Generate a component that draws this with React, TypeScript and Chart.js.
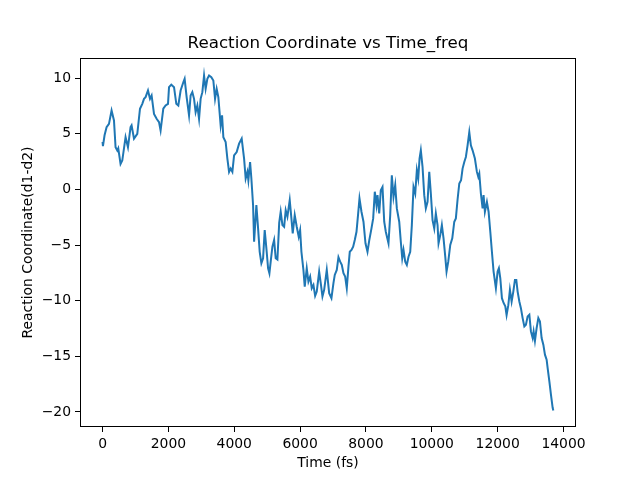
import { Chart, registerables, type ChartConfiguration, type Plugin } from "chart.js";
import { useEffect, useRef } from "react";

Chart.register(...registerables);

const TITLE = "Reaction Coordinate vs Time_freq";
const X_LABEL = "Time (fs)";
const Y_LABEL = "Reaction Coordinate(d1-d2)";

const xTicks = [0, 2000, 4000, 6000, 8000, 10000, 12000, 14000];
const yTicks = [-20, -15, -10, -5, 0, 5, 10];

// time (fs)
const timeFs = [
  0, 12, 61, 122, 195, 274, 347, 395, 447, 477,
  547, 599, 699, 772, 851, 882, 955, 1055, 1137, 1207,
  1259, 1307, 1380, 1441, 1490, 1563, 1642, 1715, 1763, 1845,
  1915, 1988, 2019, 2088, 2171, 2240, 2301, 2371, 2453, 2493,
  2554, 2627, 2675, 2727, 2779, 2827, 2879, 2931, 2979, 3031,
  3083, 3131, 3183, 3235, 3304, 3365, 3417, 3466, 3517, 3587,
  3630, 3669, 3739, 3791, 3843, 3891, 3943, 3995, 4074, 4147,
  4226, 4299, 4347, 4399, 4429, 4481, 4520, 4572, 4603, 4672,
  4724, 4773, 4824, 4876, 4925, 4976, 5028, 5068, 5107, 5159,
  5211, 5259, 5311, 5365, 5411, 5463, 5515, 5563, 5615, 5685,
  5736, 5776, 5837, 5898, 5958, 6001, 6040, 6101, 6141, 6202,
  6253, 6305, 6354, 6405, 6457, 6506, 6579, 6627, 6679, 6731,
  6810, 6883, 6952, 7013, 7053, 7114, 7165, 7217, 7266, 7317,
  7369, 7418, 7469, 7509, 7561, 7612, 7661, 7713, 7764, 7804,
  7864, 7925, 7986, 8047, 8099, 8168, 8220, 8269, 8320, 8351,
  8403, 8451, 8503, 8555, 8603, 8685, 8737, 8786, 8837, 8889,
  8938, 9011, 9059, 9102, 9141, 9193, 9242, 9293, 9345, 9394,
  9445, 9497, 9546, 9588, 9628, 9667, 9719, 9771, 9819, 9871,
  9923, 9971, 10023, 10075, 10123, 10175, 10205, 10257, 10306, 10357,
  10409, 10448, 10500, 10561, 10622, 10683, 10731, 10783, 10835, 10889,
  10935, 10987, 11035, 11087, 11139, 11187, 11239, 11309, 11370, 11412,
  11443, 11491, 11543, 11573, 11613, 11674, 11725, 11777, 11826, 11877,
  11947, 11999, 12038, 12081, 12130, 12181, 12233, 12272, 12324, 12373,
  12425, 12476, 12525, 12567, 12607, 12659, 12707, 12759, 12811, 12859,
  12911, 12963, 13011, 13063, 13093, 13133, 13184, 13236, 13285, 13336,
  13388, 13437, 13488, 13518, 13571, 13619, 13671, 13692,
];

// reaction coordinate d1-d2
const reactionCoord = [
  4.27, 3.9, 4.87, 5.6, 5.9, 7.1, 6.2, 3.8, 3.5, 3.7,
  2.3, 2.6, 4.7, 3.8, 5.6, 5.76, 4.57, 5.0, 7.26, 7.7,
  8.15, 8.3, 8.9, 8.15, 8.45, 6.8, 6.36, 6.06, 5.3, 7.26,
  7.55, 7.7, 9.2, 9.43, 9.2, 7.7, 7.55, 8.9, 9.64, 9.95,
  8.3, 6.66, 8.45, 8.75, 8.15, 6.95, 7.55, 6.36, 8.15, 8.75,
  10.24, 9.05, 9.95, 10.24, 10.1, 9.8, 8.15, 9.05, 8.3, 5.76,
  6.66, 4.7, 4.27, 2.78, 1.58, 1.88, 1.58, 3.07, 3.37, 4.12,
  4.57, 2.78, 0.99, 1.58, 0.83, 2.47, 0.99, -1.41, -4.7, -1.41,
  -3.5, -5.6, -6.63, -6.18, -3.65, -5.29, -7.08, -7.53, -6.49, -5.14,
  -4.54, -6.18, -6.3, -3.0, -2.0, -3.2, -3.35, -1.86, -2.45, -0.96,
  -2.6, -3.94, -2.3, -3.35, -4.25, -3.65, -5.6, -7.23, -8.73, -7.08,
  -8.28, -7.83, -8.87, -8.58, -9.56, -9.18, -7.38, -8.42, -9.62, -9.02,
  -7.23, -9.32, -9.77, -8.42, -7.68, -7.23, -6.09, -6.49, -6.78, -7.53,
  -7.83, -8.87, -6.93, -5.6, -5.44, -5.14, -4.54, -3.8, -2.15, -0.81,
  -2.0, -2.9, -4.84, -5.6, -4.6, -3.5, -2.6, -0.2, -1.41, -0.51,
  -2.15, -0.06, 0.23, -2.9, -3.8, -4.84, -2.3, 1.28, -0.66, 0.39,
  -1.7, -2.9, -4.7, -6.18, -5.44, -6.49, -6.78, -6.04, -5.6, -3.2,
  0.23, -0.36, 1.73, 0.99, 2.78, 3.52, 2.03, -0.51, -1.7, -1.11,
  1.58, -0.36, -2.75, -3.5, -2.15, -3.2, -4.84, -4.1, -3.2, -4.39,
  -6.04, -7.38, -6.49, -4.99, -4.39, -2.9, -2.6, -0.9, 0.54, 0.83,
  1.88, 2.47, 2.92, 3.97, 5.16, 3.97, 3.52, 2.78, 1.58, 1.13,
  1.43, -0.36, -1.7, -0.51, -2.0, -1.11, -2.0, -3.8, -5.6, -7.38,
  -8.87, -7.38, -7.08, -7.98, -9.77, -10.2, -10.5, -11.3, -10.4, -9.02,
  -10.07, -9.18, -8.13, -8.13, -9.18, -10.07, -10.67, -11.56, -12.31, -12.16,
  -11.41, -11.26, -12.76, -13.35, -12.76, -13.6, -12.46, -11.56, -11.86, -13.35,
  -13.95, -14.85, -15.3, -16.04, -17.24, -18.43, -19.62, -19.87,
];

const FONT = "'DejaVu Sans', sans-serif";

const framePlugin: Plugin<"line"> = {
  id: "frame",
  afterDraw(chart) {
    const { ctx, chartArea } = chart;
    const left = Math.round(chartArea.left) + 0.5;
    const top = Math.round(chartArea.top) + 0.5;
    const right = Math.round(chartArea.right) - 0.5;
    const bottom = Math.round(chartArea.bottom) - 0.5;
    ctx.save();
    ctx.strokeStyle = "#000000";
    ctx.lineWidth = 1;
    ctx.strokeRect(left, top, right - left, bottom - top);
    ctx.fillStyle = "#000000";
    ctx.font = `16.7px ${FONT}`;
    ctx.textAlign = "center";
    ctx.textBaseline = "middle";
    ctx.fillText(TITLE, (chartArea.left + chartArea.right) / 2, 44);
    ctx.restore();
  },
};

function minusSign(value: string | number) {
  return String(value).replace("-", "\u2212");
}

function getConfig(): ChartConfiguration<"line"> {
  return {
    type: "line",
    data: {
      datasets: [
        {
          data: timeFs.map((t, i) => ({ x: t, y: reactionCoord[i] })),
          borderColor: "#1f77b4",
          borderWidth: 2,
          pointRadius: 0,
          tension: 0,
          fill: false,
        },
      ],
    },
    options: {
      responsive: false,
      animation: false,
      layout: { padding: { left: 0, right: 64, top: 58, bottom: 0 } },
      plugins: {
        legend: { display: false },
        tooltip: { enabled: false },
        title: { display: false },
      },
      scales: {
        x: {
          type: "linear",
          min: -685,
          max: 14380,
          afterFit(scale) {
            scale.height = 53;
          },
          afterBuildTicks(scale) {
            scale.ticks = xTicks.map((value) => ({ value }));
          },
          border: { display: false },
          grid: { drawOnChartArea: false, drawTicks: true, tickLength: 5, color: "#000000" },
          ticks: {
            color: "#000000",
            font: { family: FONT, size: 13.9 },
            padding: 4,
            maxRotation: 0,
            autoSkip: false,
            callback: (value) => minusSign(value),
          },
          title: {
            display: true,
            text: X_LABEL,
            color: "#000000",
            font: { family: FONT, size: 13.9 },
            padding: { top: 0, bottom: 8 },
          },
        },
        y: {
          type: "linear",
          min: -21.35,
          max: 11.82,
          afterFit(scale) {
            scale.width = 80;
          },
          afterBuildTicks(scale) {
            scale.ticks = yTicks.map((value) => ({ value }));
          },
          border: { display: false },
          grid: { drawOnChartArea: false, drawTicks: true, tickLength: 5, color: "#000000" },
          ticks: {
            color: "#000000",
            font: { family: FONT, size: 13.9 },
            padding: 4,
            autoSkip: false,
            callback: (value) => minusSign(value),
          },
          title: {
            display: true,
            text: Y_LABEL,
            color: "#000000",
            font: { family: FONT, size: 13.9 },
            padding: { top: 20, bottom: 0 },
          },
        },
      },
    },
    plugins: [framePlugin],
  };
}

export default function App() {
  const canvasRef = useRef<HTMLCanvasElement>(null);

  useEffect(() => {
    if (!canvasRef.current) {
      return;
    }
    const chart = new Chart(canvasRef.current, getConfig());
    return () => {
      chart.destroy();
    };
  }, []);

  return (
    <div style={{ position: "absolute", left: 0, top: 0, width: 640, height: 480, background: "#ffffff" }}>
      <canvas ref={canvasRef} width={640} height={480} />
    </div>
  );
}
